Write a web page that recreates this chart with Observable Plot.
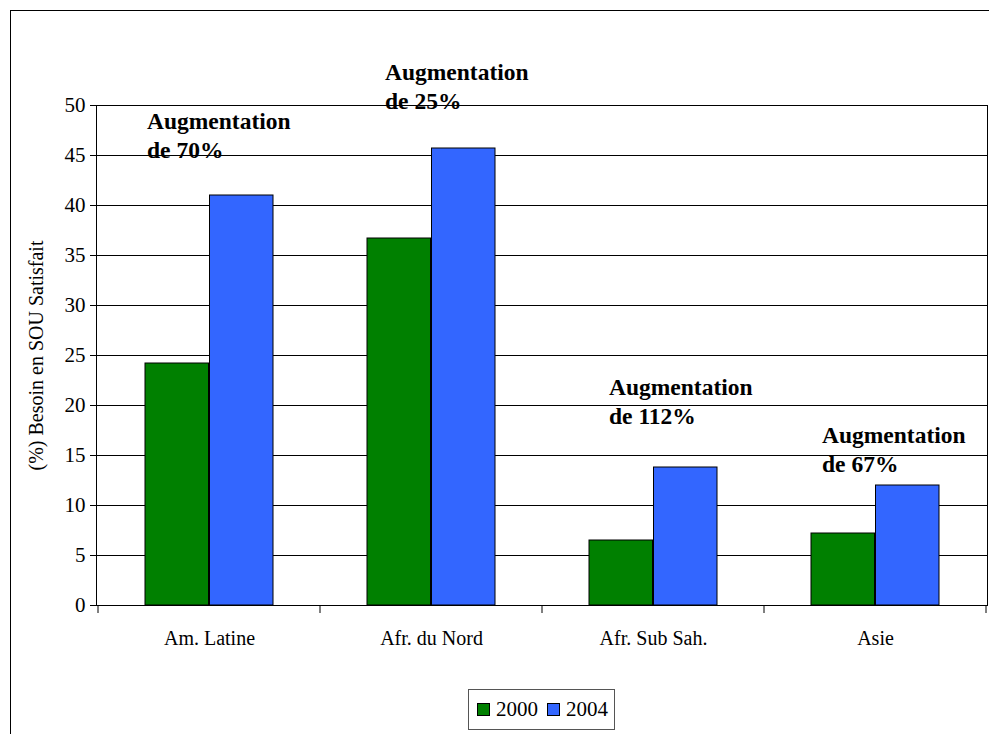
<!DOCTYPE html>
<html>
<head>
<meta charset="utf-8">
<script src="https://cdn.jsdelivr.net/npm/d3@7"></script>
<script src="https://cdn.jsdelivr.net/npm/@observablehq/plot@0.6"></script>
<style>
  html, body { margin: 0; padding: 0; background: #fff; overflow: hidden; }
  #wrap { position: relative; width: 989px; height: 734px; overflow: hidden; font-family: 'Liberation Serif', 'Times New Roman', Times, 'DejaVu Serif', serif; }
  #border { position: absolute; left: 10px; top: 10px; width: 1000px; height: 800px; border: 1px solid #000; pointer-events: none; }
  #chart { position: absolute; left: 0; top: 0; }
  #chart svg, #chart svg text { font-family: 'Liberation Serif', 'Times New Roman', Times, 'DejaVu Serif', serif; }
  #legend { position: absolute; left: 468px; top: 689px; height: 39px; border: 1px solid #555; background: #fff;
            display: flex; align-items: center; padding: 0 6px 0 8px; font-size: 21px; color: #000; }
  .sw { width: 11px; height: 11px; border: 1px solid #000; margin-right: 6px; }
  .item { display: flex; align-items: center; margin-right: 9px; }
  .item:last-child { margin-right: 0; }
</style>
</head>
<body>
<div id="wrap">
  <div id="chart"></div>
  <div id="border"></div>
  <div id="legend"></div>
</div>
<script>
const categories = ["Am. Latine", "Afr. du Nord", "Afr. Sub Sah.", "Asie"];
const years = ["2000", "2004"];
const values2000 = [24.2, 36.7, 6.5, 7.2];
const values2004 = [41.0, 45.7, 13.8, 12.0];
const noteTexts = ["Augmentation\nde 70%", "Augmentation\nde 25%", "Augmentation\nde 112%", "Augmentation\nde 67%"];
const noteLevels = [44.8, 49.7, 18.2, 13.4];
const yTicks = [0, 5, 10, 15, 20, 25, 30, 35, 40, 45, 50];
const yLabel = "(%) Besoin en SOU Satisfait";
const colors = ["#008000", "#3366FF"];

const rows2000 = categories.map((c, i) => ({category: c, year: years[0], value: values2000[i]}));
const rows2004 = categories.map((c, i) => ({category: c, year: years[1], value: values2004[i]}));
const notes = categories.map((c, i) => ({category: c, text: noteTexts[i], level: noteLevels[i]}));

const noteDx = [-62.5, -46.5, -44.5, -53.5];
const font = "'Liberation Serif', 'Times New Roman', Times, 'DejaVu Serif', serif";

function boundaryTicks(index, scales, values, dims) {
  const g = d3.create("svg:g").attr("stroke", "#000").attr("stroke-width", 1);
  const x = scales.x;
  let bw = x.bandwidth;
  if (typeof bw === "function") bw = bw();
  const y0 = dims.height - dims.marginBottom;
  const pos = categories.map(c => x(c));
  pos.push(x(categories[categories.length - 1]) + bw);
  for (const p of pos) {
    g.append("line").attr("x1", p).attr("x2", p).attr("y1", y0).attr("y2", y0 + 8);
  }
  return g.node();
}

const chart = Plot.plot({
  width: 989,
  height: 680,
  marginLeft: 96,
  marginRight: 2,
  marginTop: 105,
  marginBottom: 75,
  style: {fontFamily: font, background: "transparent", color: "#000"},
  x: {domain: categories, padding: 0},
  y: {domain: [0, 50]},
  marks: [
    Plot.ruleY(yTicks, {stroke: "#000", strokeWidth: 1}),
    Plot.barY(rows2000, {x: "category", y: "value", fill: colors[0], stroke: "#000", strokeWidth: 1, insetLeft: 47, insetRight: 111.5}),
    Plot.barY(rows2004, {x: "category", y: "value", fill: colors[1], stroke: "#000", strokeWidth: 1, insetLeft: 111.5, insetRight: 47}),
    Plot.frame({stroke: "#000", strokeWidth: 1}),
    Plot.axisY(yTicks, {tickSize: 6, tickPadding: 5, fontSize: 21, label: null, tickFormat: d => String(d)}),
    Plot.axisY({ticks: [], tickSize: 0, fontSize: 20, label: yLabel, labelAnchor: "center", labelArrow: "none", labelOffset: 68}),
    Plot.axisX({tickSize: 0, tickPadding: 25, fontSize: 20, label: null}),
    boundaryTicks,
    ...notes.map((n, i) => Plot.text([n], {
      x: "category", y: "level", text: "text",
      textAnchor: "start", lineAnchor: "bottom", lineHeight: 1.2,
      dx: noteDx[i], fontSize: 23.5, fontWeight: "bold", fill: "#000"
    }))
  ]
});
document.getElementById("chart").appendChild(chart);

const legend = document.getElementById("legend");
years.forEach((y, i) => {
  const item = document.createElement("div");
  item.className = "item";
  const sw = document.createElement("div");
  sw.className = "sw";
  sw.style.background = colors[i];
  const t = document.createElement("span");
  t.textContent = y;
  item.appendChild(sw);
  item.appendChild(t);
  legend.appendChild(item);
});
</script>
</body>
</html>
